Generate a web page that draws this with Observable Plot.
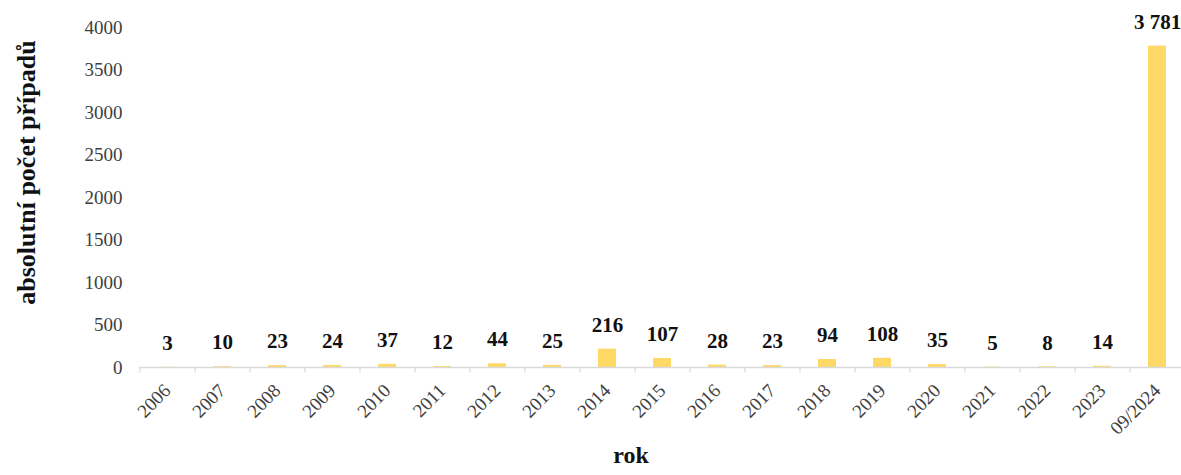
<!DOCTYPE html>
<html>
<head>
<meta charset="utf-8">
<script src="https://cdn.jsdelivr.net/npm/d3@7"></script>
<script src="https://cdn.jsdelivr.net/npm/@observablehq/plot@0.6"></script>
<style>
  html, body { margin: 0; padding: 0; background: #fff; }
</style>
</head>
<body>
<div id="chart"></div>
<script>
const categories = ["2006","2007","2008","2009","2010","2011","2012","2013","2014","2015","2016","2017","2018","2019","2020","2021","2022","2023","09/2024"];
const values = [3,10,23,24,37,12,44,25,216,107,28,23,94,108,35,5,8,14,3781];
const yTicks = [0,500,1000,1500,2000,2500,3000,3500,4000];

const data = categories.map((c, i) => ({rok: c, pocet: values[i]}));

const W = 1181, H = 475, ML = 139, MR = -3, MT = 27, MB = 108;
const step = (W - ML - MR) / categories.length;
const fmt = v => d3.format(",")(v).replace(/,/g, " ");
const FF = "Liberation Serif";

const chart = Plot.plot({
  width: W,
  height: H,
  marginLeft: ML,
  marginRight: MR,
  marginTop: MT,
  marginBottom: MB,
  style: {fontFamily: FF, background: "#fff"},
  x: {type: "band", domain: categories, paddingInner: 0.68, paddingOuter: 0.34},
  y: {domain: [0, 4000]},
  marks: [
    Plot.axisY({ticks: yTicks, tickSize: 0, tickPadding: 17, fontSize: 19, fontFamily: FF, fill: "#404040", label: null, tickFormat: d => String(d)}),
    Plot.barY(data, {x: "rok", y: "pocet", fill: "#ffd966"}),
    Plot.ruleY([0], {stroke: "#d9d9d9", strokeWidth: 1.5}),
    Plot.ruleX(categories, {x: d => d, y1: 0, y2: -65, dx: -step / 2, stroke: "#d9d9d9", strokeWidth: 1.2}),
    Plot.axisX({tickSize: 0, tickPadding: 20, tickRotate: -45, fontSize: 19, fontFamily: FF, fill: "#404040", label: null}),
    Plot.text(data, {x: "rok", y: "pocet", text: d => fmt(d.pocet), dy: -24, fontSize: 21, fontFamily: FF, fontWeight: "bold", fill: "#111", lineAnchor: "middle"}),
    Plot.text(["rok"], {frameAnchor: "bottom", textAnchor: "middle", dx: -31, dy: 95, fontSize: 24, fontFamily: FF, fontWeight: "bold", fill: "#111"}),
    Plot.text(["absolutní počet případů"], {frameAnchor: "left", textAnchor: "middle", lineAnchor: "middle", dx: -113, dy: -25, rotate: -90, fontSize: 26, fontFamily: FF, fontWeight: "bold", fill: "#111"})
  ]
});
document.getElementById("chart").appendChild(chart);
</script>
</body>
</html>
